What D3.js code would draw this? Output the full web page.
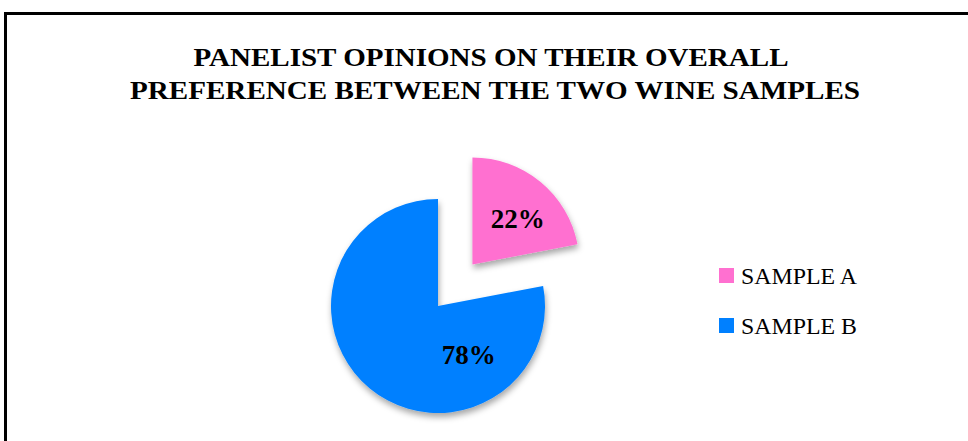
<!DOCTYPE html>
<html>
<head>
<meta charset="utf-8">
<script src="https://cdn.jsdelivr.net/npm/d3@7"></script>
<style>
  body { margin: 0; background: #fff; }
  svg { display: block; }
  .title { font-family: "Liberation Serif", "DejaVu Serif", serif; font-weight: bold; font-size: 26px; fill: #000; }
  .pct { font-family: "Liberation Serif", "DejaVu Serif", serif; font-weight: bold; font-size: 27px; fill: #000; }
  .legend { font-family: "Liberation Serif", "DejaVu Serif", serif; font-size: 23px; fill: #000; }
</style>
</head>
<body>
<div id="chart"></div>
<script>
var categories = ["SAMPLE A", "SAMPLE B"];
var values = [22, 78];
var colors = ["#ff70d0", "#0080ff"];
var titleLines = ["PANELIST OPINIONS ON  THEIR OVERALL", "PREFERENCE BETWEEN THE TWO WINE  SAMPLES"];

var width = 968, height = 441;
var svg = d3.select("#chart").append("svg")
    .attr("width", width)
    .attr("height", height);

var defs = svg.append("defs");
var shadow = defs.append("filter")
    .attr("id", "shadow")
    .attr("x", "-20%").attr("y", "-20%")
    .attr("width", "140%").attr("height", "140%");
shadow.append("feDropShadow")
    .attr("dx", 1).attr("dy", 4)
    .attr("stdDeviation", 3)
    .attr("flood-color", "#000")
    .attr("flood-opacity", 0.35);

// Outer frame (bottom and right run off the picture)
svg.append("rect")
    .attr("x", 5.5).attr("y", 13.5)
    .attr("width", 1000).attr("height", 500)
    .style("fill", "none")
    .style("stroke", "#000")
    .style("stroke-width", 3);

// Title
var titleX = [491, 495];
var titleY = [65.5, 99];
var titleLen = [595, 730];
svg.selectAll(".title").data(titleLines).enter()
  .append("text")
    .attr("class", "title")
    .attr("x", function(d, i) { return titleX[i]; })
    .attr("y", function(d, i) { return titleY[i]; })
    .attr("text-anchor", "middle")
    .attr("textLength", function(d, i) { return titleLen[i]; })
    .attr("lengthAdjust", "spacingAndGlyphs")
    .text(function(d) { return d; });

// Pie
var cx = 438, cy = 306, r = 107, explode = 54;
var pie = d3.pie().sort(null).value(function(d) { return d; });
var arcs = pie(values);
var arc = d3.arc().innerRadius(0).outerRadius(r);

var g = svg.append("g")
    .attr("transform", "translate(" + cx + "," + cy + ")");

function offset(d, i) {
  if (i !== 0) return [0, 0];
  var a = (d.startAngle + d.endAngle) / 2;
  return [explode * Math.sin(a), -explode * Math.cos(a)];
}

var slice = g.selectAll(".slice").data(arcs).enter()
  .append("g")
    .attr("class", "slice")
    .attr("transform", function(d, i) {
      var o = offset(d, i);
      return "translate(" + o[0] + "," + o[1] + ")";
    });

slice.append("path")
    .attr("d", arc)
    .style("fill", function(d, i) { return colors[i]; })
    .attr("filter", "url(#shadow)");

// Percentage labels
var labelPolar = [[45, 64], [148, 58]];
slice.append("text")
    .attr("class", "pct")
    .attr("text-anchor", "middle")
    .attr("x", function(d, i) {
      return labelPolar[i][1] * Math.sin(labelPolar[i][0] * Math.PI / 180);
    })
    .attr("y", function(d, i) {
      return -labelPolar[i][1] * Math.cos(labelPolar[i][0] * Math.PI / 180) + 9;
    })
    .text(function(d) { return d.data + "%"; });

// Legend
var legend = svg.selectAll(".legItem").data(categories).enter()
  .append("g")
    .attr("class", "legItem")
    .attr("transform", function(d, i) { return "translate(719," + (268 + i * 50) + ")"; });

legend.append("rect")
    .attr("width", 15).attr("height", 15)
    .style("fill", function(d, i) { return colors[i]; });

legend.append("text")
    .attr("class", "legend")
    .attr("x", 22).attr("y", 15.5)
    .attr("textLength", 116)
    .attr("lengthAdjust", "spacingAndGlyphs")
    .text(function(d) { return d; });
</script>
</body>
</html>
